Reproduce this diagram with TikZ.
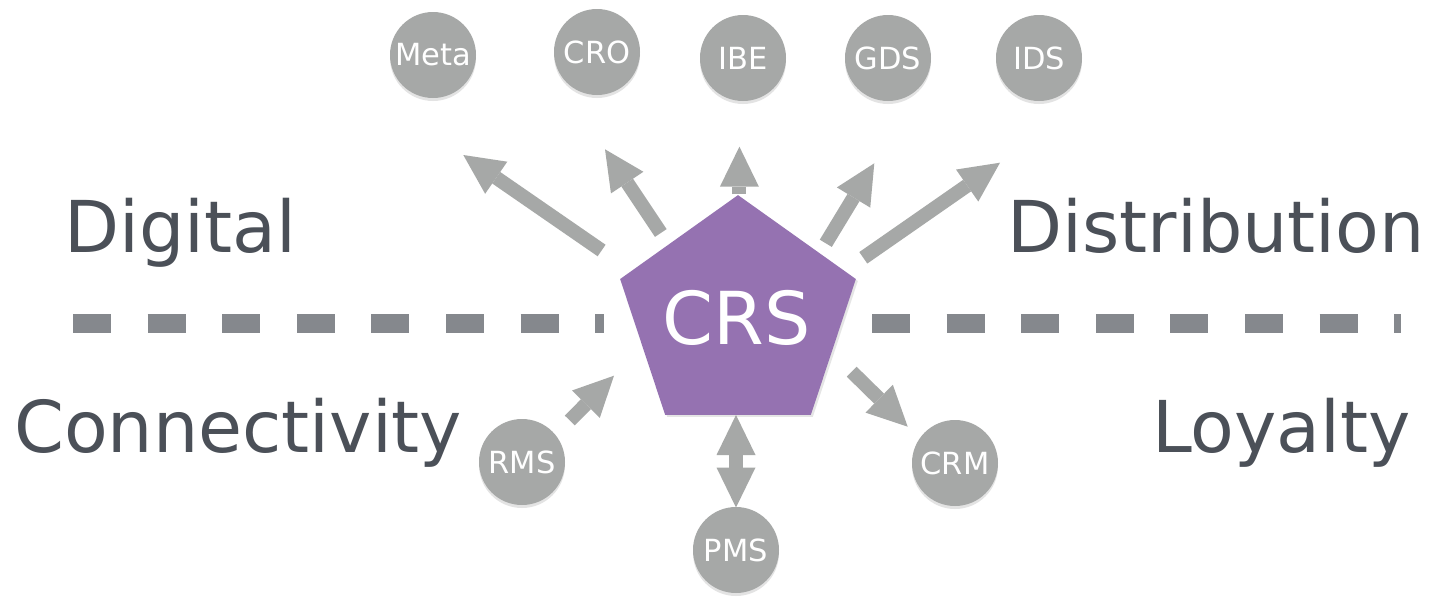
\documentclass[tikz,border=0pt]{standalone}
\usepackage{fontspec}
\setmainfont{DejaVu Sans}
\usetikzlibrary{shapes.geometric,arrows.meta,shadows}
\definecolor{bubble}{HTML}{A6A8A7}
\definecolor{crspurple}{HTML}{9572B1}
\definecolor{dashgray}{HTML}{85888D}
\definecolor{labelgray}{HTML}{4B5058}
\begin{document}
\begin{tikzpicture}[x=1pt,y=-1pt,
  system/.style={circle, fill=bubble, minimum size=86pt, inner sep=0pt, text=white,
    font=\fontsize{30.5}{33}\selectfont,
    drop shadow={shadow xshift=0pt, shadow yshift=-3pt, opacity=0.22}},
  region/.style={text=labelgray, font=\fontsize{71.5}{80}\selectfont, inner sep=0pt},
  flow/.style={draw=bubble, line width=14pt, line cap=butt,
    -{Triangle[width=39pt,length=40pt,line width=0pt]}},
  biflow/.style={draw=bubble, line width=14pt, line cap=butt,
    {Triangle[width=39pt,length=40pt,line width=0pt]}-{Triangle[width=39pt,length=40pt,line width=0pt]}},
  divider/.style={draw=dashgray, line width=18.7pt, dash pattern=on 37.9pt off 36.7pt}
]
\fill[white] (0,0) rectangle (1433,598);
\useasboundingbox (0,0) rectangle (1433,598);

% divider line
\coordinate (dl1) at (73,323.3);
\coordinate (dl2) at (604,323.3);
\coordinate (dr1) at (872,323.3);
\coordinate (dr2) at (1401,323.3);
\draw[divider] (dl1) -- (dl2);
\draw[divider] (dr1) -- (dr2);

% region labels
\node[region, anchor=base west] (digital) at (64,252) {Digital};
\node[region, anchor=base east] (distribution) at (1425,252) {Distribution};
\node[region, anchor=base west] (connectivity) at (14,452) {Connectivity};
\node[region, anchor=base west] (loyalty) at (1152,452) {Loyalty};

% systems
\node[system] (meta) at (433,55) {Meta};
\node[system] (cro) at (597,52) {CRO};
\node[system] (ibe) at (743,58) {IBE};
\node[system] (gds) at (888,58) {GDS};
\node[system] (ids) at (1039,58) {IDS};
\node[system] (rms) at (522,462) {RMS};
\node[system] (pms) at (736,550) {PMS};
\node[system] (crm) at (955,463) {CRM};

% arrow end points
\coordinate (metaT) at (601.6,250.5);  \coordinate (metaH) at (463.3,155);
\coordinate (croT) at (660.8,233);     \coordinate (croH) at (605,149.3);
\coordinate (ibeT) at (739.4,194);     \coordinate (ibeH) at (739.4,146.7);
\coordinate (gdsT) at (825.8,243.3);   \coordinate (gdsH) at (874.3,163.3);
\coordinate (idsT) at (863.3,257.8);   \coordinate (idsH) at (1000,162.7);
\coordinate (rmsT) at (569.8,420.5);   \coordinate (rmsH) at (614,375.7);
\coordinate (crmT) at (851.7,371.7);   \coordinate (crmH) at (907.7,426.7);
\coordinate (pmsA) at (736,415);       \coordinate (pmsB) at (736,507.5);

\draw[flow] (metaT) -- (metaH);
\draw[flow] (croT) -- (croH);
\draw[flow] (ibeT) -- (ibeH);
\draw[flow] (gdsT) -- (gdsH);
\draw[flow] (idsT) -- (idsH);
\draw[flow] (rmsT) -- (rmsH);
\draw[flow] (crmT) -- (crmH);
\draw[biflow] (pmsA) -- (pmsB);

% central CRS pentagon
\node[regular polygon, regular polygon sides=5, minimum size=243pt, inner sep=0pt,
  fill=crspurple, xscale=1.02,
  drop shadow={shadow xshift=2pt, shadow yshift=-2pt, opacity=0.2}] (crs) at (738,316.6) {};
\node[text=white, font=\fontsize{73}{80}\selectfont, inner sep=0pt] (crstext) at (737,318) {CRS};
\end{tikzpicture}
\end{document}
